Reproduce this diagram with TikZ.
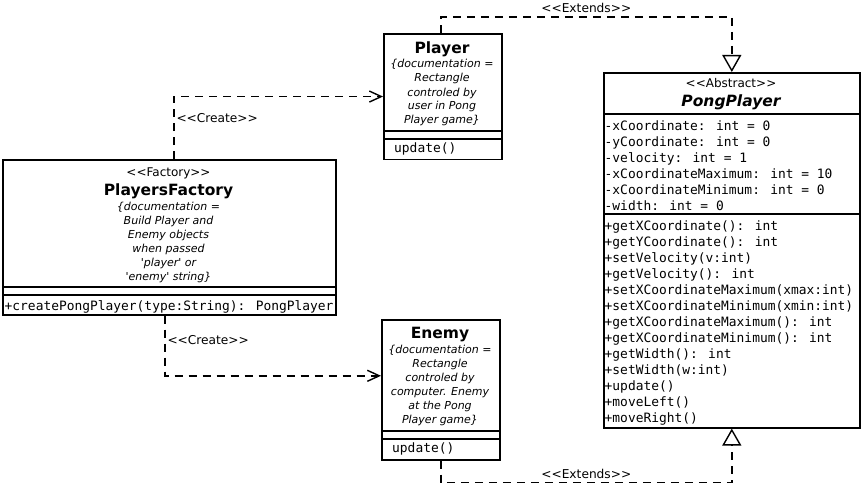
\documentclass[tikz,border=0pt]{standalone}
\usepackage{fontspec}
\newfontfamily\dvsans{DejaVu Sans}
\newfontfamily\dvmono{DejaVu Sans Mono}
\usepackage{tikz}
\usetikzlibrary{arrows.meta}
\tikzset{classbox/.style={draw, line width=1.6pt, inner sep=0pt, anchor=north west},
	sepline/.style={line width=1.6pt},
	stereo/.style={font=\dvsans\fontsize{12}{14}\selectfont, inner sep=0pt, anchor=base},
	clsname/.style={font=\dvsans\bfseries\fontsize{15.5}{18}\selectfont, inner sep=0pt, anchor=base},
	doc/.style={font=\dvsans\itshape\fontsize{11}{14}\selectfont, inner sep=0pt, anchor=base},
	member/.style={font=\dvmono\fontsize{12.9}{16}\selectfont, inner sep=0pt, anchor=base west},
	lbl/.style={font=\dvsans\fontsize{12.2}{14}\selectfont, inner sep=0pt},
	create/.style={line width=1.4pt, dash pattern=on 8pt off 6pt, -{Straight Barb[length=12pt,width=11pt]}},
	extends/.style={line width=1.4pt, dash pattern=on 8pt off 6pt, -{Triangle[open,length=17pt,width=19pt]}}}

\begin{document}
\begin{tikzpicture}[x=1pt,y=-1pt]
		\useasboundingbox (0,0) rectangle (861,500);
		% class boxes
		\node[classbox, minimum width=333pt, minimum height=155pt] (factory) at (2,159) {};
		\node[classbox, minimum width=118pt, minimum height=125.5pt] (player) at (383,33) {};
		\node[classbox, minimum width=118pt, minimum height=140pt] (enemy) at (381,319) {};
		\node[classbox, minimum width=256pt, minimum height=355pt] (pong) at (603,72) {};
		\draw[sepline] (factory.north west) ++(0,128) -- ++(333,0) ++(-333,8) -- ++(333,0);
		\draw[sepline] (player.north west) ++(0,98) -- ++(118,0) ++(-118,8) -- ++(118,0);
		\draw[sepline] (enemy.north west) ++(0,112) -- ++(118,0) ++(-118,8) -- ++(118,0);
		\draw[sepline] (pong.north west) ++(0,42) -- ++(256,0) ++(-256,100) -- ++(256,0);
		
		% PlayersFactory
		\node[stereo] (factoryst) at (168.5,176) {<<Factory>>};
		\node[clsname] (factoryname) at (168.5,195) {PlayersFactory};
		\foreach \t [count=\i] in {\{documentation =, Build Player and, Enemy objects, when passed,
		   \textquotesingle player\textquotesingle\ or, \textquotesingle enemy\textquotesingle\ string\}}{
		  \node[doc] (factorydoc\i) at (168.5,196.5+14*\i) {\t};
		}
		\node[member] (factorym) at (4.5,310.5) {+createPongPlayer(type:String): PongPlayer};
		
		% Player
		\node[clsname] (playername) at (442,53.5) {Player};
		\foreach \t [count=\i] in {\{documentation =, Rectangle, controled by, user in Pong, Player game\}}{
		  \node[doc] (playerdoc\i) at (442,54+14*\i) {\t};
		}
		\node[member] (playerm) at (394,152) {update()};
		
		% Enemy
		\node[clsname] (enemyname) at (440,338.5) {Enemy};
		\foreach \t [count=\i] in {\{documentation =, Rectangle, controled by, computer. Enemy, at the Pong, Player game\}}{
		  \node[doc] (enemydoc\i) at (440,339+14*\i) {\t};
		}
		\node[member] (enemym) at (392,452) {update()};
		
		% PongPlayer
		\node[stereo] (pongst) at (731,88) {<<Abstract>>};
		\node[clsname, font=\dvsans\bfseries\itshape\fontsize{15.5}{18}\selectfont] (pongname) at (731,106.5) {PongPlayer};
		\foreach \t [count=\i] in {-xCoordinate: int = 0, -yCoordinate: int = 0, -velocity: int = 1,
		   -xCoordinateMaximum: int = 10, -xCoordinateMinimum: int = 0, -width: int = 0}{
		  \node[member] (attr\i) at (604.5,114+16*\i) {\t};
		}
		\foreach \t [count=\i] in {+getXCoordinate(): int, +getYCoordinate(): int, +setVelocity(v:int),
		   +getVelocity(): int, +setXCoordinateMaximum(xmax:int), +setXCoordinateMinimum(xmin:int),
		   +getXCoordinateMaximum(): int, +getXCoordinateMinimum(): int, +getWidth(): int,
		   +setWidth(w:int), +update(), +moveLeft(), +moveRight()}{
		  \node[member] (meth\i) at (604.5,214+16*\i) {\t};
		}
		
		% connectors
		\draw[create] ([xshift=4.5pt]factory.north) |- (player.west)
		  node[lbl, pos=0.25, anchor=base west, xshift=2pt, yshift=5.5pt] (createA) {<<Create>>};
		\draw[create] ([xshift=-4.5pt]factory.south) |- ([yshift=14pt]enemy.west)
		  node[lbl, pos=0.25, anchor=base west, xshift=2pt, yshift=1.5pt] (createB) {<<Create>>};
		\draw[extends] ([xshift=-2pt]player.north) -- ++(0,-16) -| (pong.north)
		  node[lbl, pos=0.25, anchor=base, yshift=4pt] (extendsA) {<<Extends>>};
		\draw[extends] (enemy.south) -- ++(0,22) -| (pong.south)
		  node[lbl, pos=0.25, anchor=base, yshift=4pt] (extendsB) {<<Extends>>};
	\end{tikzpicture}
\end{document}
